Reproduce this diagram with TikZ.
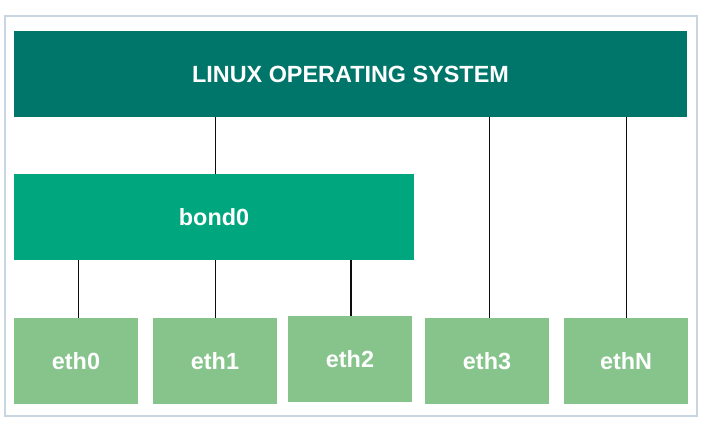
\documentclass[tikz,border=0pt]{standalone}
\usepackage{fontspec}
\setmainfont{Liberation Sans}
\definecolor{frame}{RGB}{200,214,228}
\definecolor{osteal}{RGB}{0,118,106}
\definecolor{bondgreen}{RGB}{0,166,126}
\definecolor{ethgreen}{RGB}{134,196,140}
\tikzset{
  blk/.style={inner sep=0pt, outer sep=0pt, anchor=north west, text=white,
    font=\fontsize{23.4}{27}\selectfont\bfseries},
  osbox/.style={blk, fill=osteal, minimum width=673pt, minimum height=86pt},
  bondbox/.style={blk, fill=bondgreen, minimum width=400pt, minimum height=86pt},
  ethbox/.style={blk, fill=ethgreen, minimum width=124pt, minimum height=86pt},
  wire/.style={line width=1.5pt, draw=black!95}
}
\begin{document}
\begin{tikzpicture}[x=1pt,y=-1pt]
\useasboundingbox (0,0) rectangle (709,422);
\draw[frame, line width=2pt] (5,16) rectangle (696.5,415.5);
\node[osbox] (os) at (14,31) {LINUX OPERATING SYSTEM};
\node[bondbox] (bond) at (14,174) {bond0};
\node[ethbox] (eth0) at (14,318) {eth0};
\node[ethbox] (eth1) at (153,318) {eth1};
\node[ethbox] (eth2) at (288,316) {eth2};
\node[ethbox] (eth3) at (425,318) {eth3};
\node[ethbox] (ethN) at (564,318) {ethN};
\draw[wire] (os.south -| 215.5,0) -- (bond.north -| 215.5,0);
\draw[wire] (os.south -| 489.3,0) -- (eth3.north -| 489.3,0);
\draw[wire] (os.south -| 626.3,0) -- (ethN.north -| 626.3,0);
\draw[wire] (bond.south -| 78.7,0) -- (eth0.north -| 78.7,0);
\draw[wire] (bond.south -| 215.5,0) -- (eth1.north -| 215.5,0);
\draw[wire] (bond.south -| 351,0) -- (eth2.north -| 351,0);
\end{tikzpicture}
\end{document}
